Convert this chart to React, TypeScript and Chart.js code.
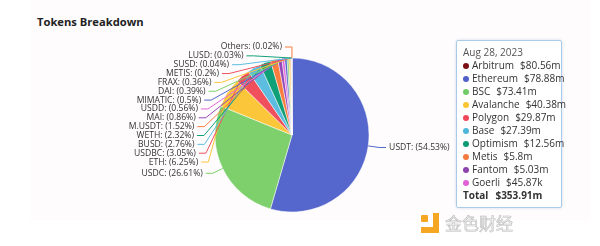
import React, { useEffect, useRef } from 'react';
import { Chart, registerables } from 'chart.js';

Chart.register(...registerables);

// ---- data ----
const tokenLabels = ['USDT', 'USDC', 'ETH', 'USDBC', 'BUSD', 'WETH', 'M.USDT', 'MAI', 'USDD', 'MIMATIC', 'DAI', 'FRAX', 'METIS', 'SUSD', 'LUSD', 'Others'];
const tokenShares = [54.53, 26.61, 6.25, 3.05, 2.76, 2.32, 1.52, 0.86, 0.56, 0.5, 0.39, 0.36, 0.2, 0.04, 0.03, 0.02];
const slicePalette = ['#5566cc', '#7dd06c', '#fcc63a', '#f0505c', '#5cbde0', '#10a077', '#f87d3e', '#9549b8', '#e26ad8'];

const chainNames = ['Arbitrum', 'Ethereum', 'BSC', 'Avalanche', 'Polygon', 'Base', 'Optimism', 'Metis', 'Fantom', 'Goerli'];
const chainValues = [80.56, 78.88, 73.41, 40.38, 29.87, 27.39, 12.56, 5.8, 5.03, 0.04587];
const chainColors = ['#7a1010', '#4f60c8', '#72cc65', '#fbc531', '#f0485a', '#4db6db', '#0b9c74', '#f47a3e', '#8e44ad', '#e062d6'];
const dateLabel = 'Aug 28, 2023';
const totalValue = 353.91;
const titleText = 'Tokens Breakdown';

function fmtMoney(v: number): string {
  if (v >= 1) return '$' + parseFloat(v.toFixed(2)) + 'm';
  return '$' + parseFloat((v * 1000).toFixed(2)) + 'k';
}

const EXT = 11;
const LEN2 = 7;
const GAP = 8.85;

const outerLabelPlugin = {
  id: 'outerLabels',
  afterDatasetsDraw(chart: any) {
    const ctx = chart.ctx;
    const meta = chart.getDatasetMeta(0);
    const ds = chart.data.datasets[0];
    const items = meta.data.map((arc: any, i: number) => {
      const p = arc.getProps(['x', 'y', 'startAngle', 'endAngle', 'outerRadius'], true);
      const mid = (p.startAngle + p.endAngle) / 2;
      const R2 = p.outerRadius + EXT;
      return {
        i, cx: p.x, cy: p.y, r: p.outerRadius, R2,
        cos: Math.cos(mid), sin: Math.sin(mid),
        ny: p.y + Math.sin(mid) * R2, y: 0,
      };
    });
    const sides = [items.filter((it: any) => it.cos < 0), items.filter((it: any) => it.cos >= 0)];
    sides.forEach((side: any[]) => {
      side.sort((a, b) => a.ny - b.ny);
      let prev = -Infinity;
      side.forEach((it) => {
        it.y = Math.max(it.ny, prev + GAP);
        prev = it.y;
      });
    });
    ctx.save();
    ctx.font = '8.6px "Open Sans"';
    ctx.textBaseline = 'middle';
    items.forEach((it: any) => {
      const left = it.cos < 0;
      const dir = left ? -1 : 1;
      const dy = it.y - it.cy;
      const h = Math.sqrt(Math.max(0, it.R2 * it.R2 - dy * dy));
      const ex = it.cx + dir * h;
      const endX = ex + dir * LEN2;
      const px = it.cx + it.cos * it.r;
      const py = it.cy + it.sin * it.r;
      const color = ds.backgroundColor[it.i];
      ctx.strokeStyle = color;
      ctx.lineWidth = 1;
      ctx.beginPath();
      ctx.moveTo(px, py);
      ctx.lineTo(ex, it.y);
      ctx.lineTo(endX, it.y);
      ctx.stroke();
      ctx.fillStyle = '#333';
      ctx.textAlign = left ? 'right' : 'left';
      ctx.fillText(`${chart.data.labels[it.i]}: (${ds.data[it.i]}%)`, endX + dir * 3, it.y);
    });
    ctx.restore();
  },
};

export default function App() {
  const canvasRef = useRef<HTMLCanvasElement | null>(null);

  useEffect(() => {
    if (!canvasRef.current) return;
    const chart = new Chart(canvasRef.current, {
      type: 'pie',
      data: {
        labels: tokenLabels,
        datasets: [
          {
            data: tokenShares,
            backgroundColor: tokenLabels.map((_, i) => slicePalette[i % slicePalette.length]),
            borderColor: '#ffffff',
            borderWidth: 0.5,
            radius: 77,
          } as any,
        ],
      },
      options: {
        animation: false,
        responsive: false,
        maintainAspectRatio: false,
        events: [],
        layout: { padding: { left: 0, right: 16, top: 24, bottom: 0 } },
        plugins: { legend: { display: false }, tooltip: { enabled: false } },
      },
      plugins: [outerLabelPlugin],
    });
    return () => chart.destroy();
  }, []);

  const font = '"Open Sans", "Noto Sans", sans-serif';

  return (
    <div style={{ position: 'absolute', left: 0, top: 0, width: 600, height: 246, background: '#ffffff', overflow: 'hidden', fontFamily: font }}>
      <div style={{ position: 'absolute', left: 30, top: 0, width: 560, height: 220, background: '#fefcfd' }} />
      <div style={{ position: 'absolute', left: 37, top: 14, fontSize: 11.2, fontWeight: 700, color: '#222', lineHeight: '16px', whiteSpace: 'nowrap' }}>
        {titleText}
      </div>
      <canvas ref={canvasRef} width={600} height={246} style={{ position: 'absolute', left: 0, top: 0, width: 600, height: 246 }} />
      <div
        style={{
          position: 'absolute', left: 456, top: 40, width: 104, height: 166,
          background: '#ffffff', border: '1px solid #a9cbe9', borderRadius: 2,
          boxShadow: '0 0 3px rgba(80,120,170,0.25)', fontSize: 10, color: '#333',
        }}
      >
        <div style={{ position: 'absolute', left: 6, top: 5, lineHeight: '13px', color: '#555', whiteSpace: 'nowrap' }}>{dateLabel}</div>
        {chainNames.map((name, i) => (
          <div key={name} style={{ position: 'absolute', left: 6, top: 18 + i * 13, lineHeight: '13px', whiteSpace: 'nowrap', display: 'flex', alignItems: 'center' }}>
            <span style={{ display: 'inline-block', width: 6, height: 6, borderRadius: 3, background: chainColors[i], marginRight: 3 }} />
            <span>{name}</span>
            <span style={{ marginLeft: 6 }}>{fmtMoney(chainValues[i])}</span>
          </div>
        ))}
        <div style={{ position: 'absolute', left: 6, top: 18 + chainNames.length * 13, lineHeight: '13px', whiteSpace: 'nowrap', fontWeight: 700 }}>
          <span>Total</span>
          <span style={{ marginLeft: 7 }}>{fmtMoney(totalValue)}</span>
        </div>
      </div>
      {/* watermark */}
      <div style={{ position: 'absolute', left: 421, top: 215, width: 7, height: 7, background: '#f5a623', borderRadius: 1 }} />
      <div style={{ position: 'absolute', left: 433, top: 213, width: 6, height: 20, background: '#f5a623' }} />
      <div style={{ position: 'absolute', left: 421, top: 227, width: 18, height: 6, background: '#f5a623' }} />
      <div
        style={{
          position: 'absolute', left: 445, top: 213, fontSize: 17, lineHeight: '20px',
          fontFamily: '"Noto Sans CJK SC", sans-serif', color: '#f2f2f2',
          WebkitTextStroke: '0.6px #bdbdbd', whiteSpace: 'nowrap', letterSpacing: 0,
        } as any}
      >
        金色财经
      </div>
    </div>
  );
}
